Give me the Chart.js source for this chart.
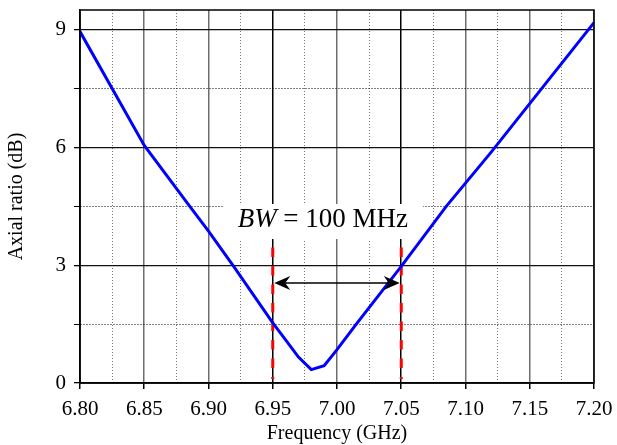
<!DOCTYPE html>
<html>
<head>
<meta charset="utf-8">
<script src="https://cdn.jsdelivr.net/npm/chart.js@4/dist/chart.umd.min.js"></script>
<style>
  html, body { margin: 0; padding: 0; background: #fff; }
</style>
</head>
<body>
<canvas id="chart" width="617" height="445"></canvas>
<script>
// values
const freq = [6.80, 6.825, 6.85, 6.885, 6.90, 6.92, 6.95, 6.96, 6.97, 6.98, 6.99, 7.00, 7.015, 7.05, 7.085, 7.12, 7.16, 7.20];
const axialRatio = [8.95, 7.5, 6.05, 4.52, 3.87, 2.95, 1.53, 1.1, 0.66, 0.34, 0.44, 0.85, 1.5, 2.97, 4.5, 5.88, 7.53, 9.18];

const xMajorTicks = [6.80, 6.85, 6.90, 6.95, 7.00, 7.05, 7.10, 7.15, 7.20];
const xMinorTicks = [6.825, 6.875, 6.925, 6.975, 7.025, 7.075, 7.125, 7.175];
const yMajorTicks = [0, 3, 6, 9];
const yMinorTicks = [1.5, 4.5, 7.5];

// bandwidth marker
const bandEdges = [6.95, 7.05];
const bandLineSpan = [3.45, 0.1];
const arrowLevel = 2.55;
const bwLabelPos = [6.989, 4.1];

const serif = 'Liberation Serif, Times New Roman, serif';
const has = (list, v) => list.some(t => Math.abs(t - v) < 1e-9);

const curve = freq.map((f, i) => ({ x: f, y: axialRatio[i] }));

const bandLines = bandEdges.map(f => ({
    data: [{ x: f, y: bandLineSpan[0] }, { x: f, y: bandLineSpan[1] }],
    borderColor: '#ff0000',
    borderWidth: 3,
    borderDash: [9.5, 9],
    pointRadius: 0,
    showLine: true
}));

const overlay = {
    id: 'overlay',
    beforeDatasetsDraw(chart) {
        // white box with the BW label
        const { ctx, scales: { x, y } } = chart;
        const cx = x.getPixelForValue(bwLabelPos[0]);
        const cy = y.getPixelForValue(bwLabelPos[1]);
        ctx.save();
        ctx.font = 'italic 27px ' + serif;
        const w1 = ctx.measureText('BW').width;
        ctx.font = '27px ' + serif;
        const w2 = ctx.measureText(' = 100 MHz').width;
        const total = w1 + w2;
        ctx.fillStyle = '#fff';
        ctx.fillRect(cx - 100, cy - 18, 200, 35);
        ctx.fillStyle = '#000';
        ctx.textBaseline = 'middle';
        ctx.font = 'italic 27px ' + serif;
        ctx.fillText('BW', cx - total / 2, cy - 2);
        ctx.font = '27px ' + serif;
        ctx.fillText(' = 100 MHz', cx - total / 2 + w1, cy - 2);
        ctx.restore();
    },
    afterDatasetsDraw(chart) {
        const { ctx, chartArea: a, scales: { x, y } } = chart;
        ctx.save();
        // frame round the plot
        ctx.strokeStyle = '#000';
        ctx.lineWidth = 1.5;
        ctx.strokeRect(a.left, a.top, a.right - a.left, a.bottom - a.top);

        // double headed arrow
        const x1 = x.getPixelForValue(bandEdges[0]) + 1.5;
        const x2 = x.getPixelForValue(bandEdges[1]) - 1.5;
        const ay = y.getPixelForValue(arrowLevel);
        ctx.lineWidth = 1.5;
        ctx.beginPath();
        ctx.moveTo(x1 + 8, ay);
        ctx.lineTo(x2 - 8, ay);
        ctx.stroke();
        ctx.fillStyle = '#000';
        [[x1, 1], [x2, -1]].forEach(([tx, d]) => {
            ctx.beginPath();
            ctx.moveTo(tx, ay);
            ctx.lineTo(tx + d * 16, ay - 7);
            ctx.lineTo(tx + d * 11, ay);
            ctx.lineTo(tx + d * 16, ay + 7);
            ctx.closePath();
            ctx.fill();
        });
        ctx.restore();
    }
};

new Chart(document.getElementById('chart').getContext('2d'), {
    type: 'scatter',
    data: {
        datasets: [{
            data: curve,
            borderColor: '#0000ff',
            borderWidth: 3,
            pointRadius: 0,
            showLine: true,
            tension: 0
        }, ...bandLines]
    },
    options: {
        responsive: false,
        animation: false,
        layout: { padding: { top: 10, right: 23, left: 0, bottom: 0 } },
        plugins: { legend: { display: false }, tooltip: { enabled: false } },
        scales: {
            x: {
                type: 'linear',
                min: 6.8,
                max: 7.2,
                afterBuildTicks: s => { s.ticks = [...xMajorTicks, ...xMinorTicks].sort((a, b) => a - b).map(v => ({ value: v })); },
                afterFit: s => { s.height = 62; s.paddingLeft = 0; s.paddingRight = 0; },
                ticks: {
                    autoSkip: false,
                    maxRotation: 0,
                    padding: 8,
                    color: '#000',
                    font: { family: serif, size: 21 },
                    callback: v => has(xMajorTicks, v) ? v.toFixed(2) : ''
                },
                grid: {
                    color: c => {
                        if (!c.tick) return '#000';
                        if (has(bandEdges, c.tick.value)) return '#000';
                        return has(xMajorTicks, c.tick.value) ? '#6e6e6e' : '#777';
                    },
                    lineWidth: c => c.tick && has(xMajorTicks, c.tick.value) ? 1.5 : 1,
                    tickColor: c => c.tick && has(xMajorTicks, c.tick.value) ? '#000' : 'rgba(0,0,0,0)',
                    tickLength: 6
                },
                border: {
                    color: '#000',
                    width: 1.5,
                    dash: c => c.tick && has(xMinorTicks, c.tick.value) ? [1, 2] : []
                },
                title: {
                    display: true,
                    text: 'Frequency (GHz)',
                    color: '#000',
                    font: { family: serif, size: 20 },
                    padding: { top: 0, bottom: -1 }
                }
            },
            y: {
                type: 'linear',
                min: 0,
                max: 9.5,
                afterBuildTicks: s => { s.ticks = [...yMajorTicks, ...yMinorTicks].sort((a, b) => a - b).map(v => ({ value: v })); },
                afterFit: s => { s.width = 80; s.paddingTop = 0; s.paddingBottom = 0; },
                ticks: {
                    padding: 8,
                    color: '#000',
                    font: { family: serif, size: 21 },
                    callback: v => has(yMajorTicks, v) ? String(v) : ''
                },
                grid: {
                    color: c => c.tick && has(yMajorTicks, c.tick.value) ? '#111' : '#000',
                    lineWidth: c => c.tick && has(yMajorTicks, c.tick.value) ? 1.3 : 1,
                    tickColor: '#000',
                    tickLength: 6
                },
                border: {
                    color: '#000',
                    width: 1.5,
                    dash: c => c.tick && has(yMinorTicks, c.tick.value) ? [1, 2] : []
                },
                title: {
                    display: true,
                    text: 'Axial ratio (dB)',
                    color: '#000',
                    font: { family: serif, size: 20 },
                    padding: { top: 5, bottom: 0 }
                }
            }
        }
    },
    plugins: [overlay]
});
</script>
</body>
</html>
